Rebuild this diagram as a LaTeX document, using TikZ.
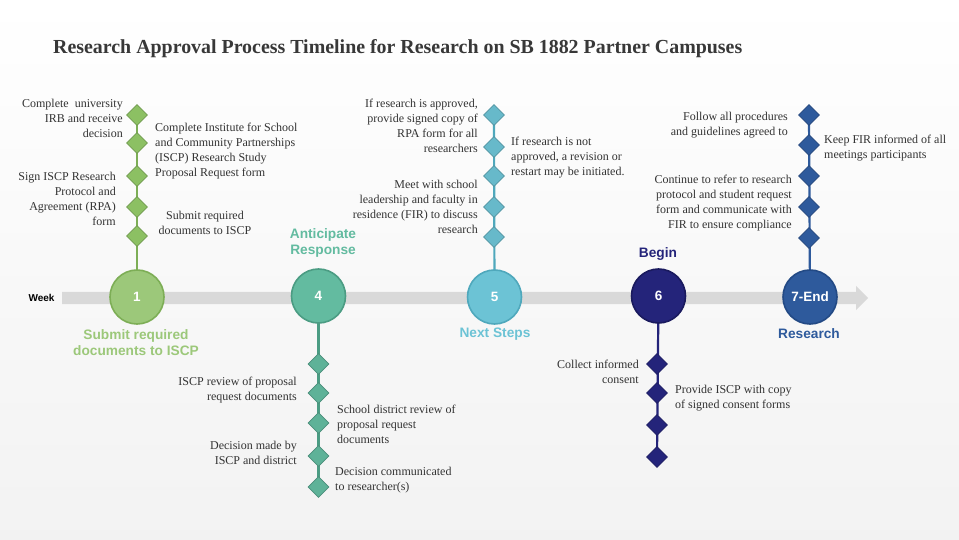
\documentclass[tikz,border=0pt]{standalone}
\usepackage{fontspec}
\setmainfont{Liberation Serif}
\setsansfont{Liberation Sans}
\usetikzlibrary{shapes.geometric,backgrounds}
\definecolor{gC}{HTML}{9CC87A}\definecolor{gD}{HTML}{7DAE56}
\definecolor{gM}{HTML}{8CC063}
\definecolor{tC}{HTML}{63BBA0}\definecolor{tD}{HTML}{4B9C83}
\definecolor{bC}{HTML}{6CC3D5}\definecolor{bD}{HTML}{4FA8BC}
\definecolor{nC}{HTML}{24247A}\definecolor{nD}{HTML}{1A1A5E}
\definecolor{rC}{HTML}{2E5A9C}\definecolor{rD}{HTML}{234A85}
\definecolor{txtc}{HTML}{333333}
\definecolor{barc}{HTML}{D9D9D9}
\tikzset{
  txt/.style={font=\fontsize{12}{15}\selectfont, inner sep=0pt, text=txtc},
  lt/.style={txt, align=right, anchor=east},
  rt/.style={txt, align=left, anchor=west},
  ct/.style={txt, align=center, anchor=center},
  dia/.style={diamond, aspect=1, minimum width=21pt, minimum height=21pt, inner sep=0pt, fill=#1, draw=#1!80!black, line width=0.6pt},
  wk/.style={circle, minimum size=54pt, inner sep=0pt, fill=#1C, draw=#1D, line width=1.6pt, text=white, font=\sffamily\bfseries\fontsize{13.5}{15}\selectfont},
  lab/.style={font=\sffamily\bfseries\fontsize{13.7}{16}\selectfont, text=#1, align=center, inner sep=0pt},
  stem/.style={line width=2.2pt, draw=#1}
}
\begin{document}
\begin{tikzpicture}[x=1pt,y=-1pt]
\begin{scope}[on background layer]
\shade[top color=white, bottom color=black!5] (0,0) rectangle (959,540);
\end{scope}
\useasboundingbox (0,0) rectangle (959,540);
% title
\node[font=\bfseries\fontsize{19.9}{22}\selectfont, text=black!78, anchor=west, inner sep=0pt] (title) at (53,49) {Research Approval Process Timeline for Research on SB 1882 Partner Campuses};
% timeline bar
\fill[barc] (62,292) -- (856,292) -- (856,286) -- (868,298) -- (856,310) -- (856,304) -- (62,304) -- cycle;
\node[font=\sffamily\bfseries\fontsize{10}{11}\selectfont, inner sep=0pt] (week) at (41.5,298) {Week};
% circles
\node[wk=g] (c1) at (137,297) {1};
\node[wk=t] (c4) at (318.5,296) {4};
\node[wk=b] (c5) at (494.5,297) {5};
\node[wk=n] (c6) at (658.5,296) {6};
\node[wk=r] (c7) at (810,297) {7-End};
% labels
\node[lab=gC] (l1) at (136,343) {Submit required\\documents to ISCP};
\node[lab=tC] (l4) at (323,243) {Anticipate\\Response};
\node[lab=bC] (l5) at (495,334) {Next Steps};
\node[lab=nC] (l6) at (658,254) {Begin};
\node[lab=rC] (l7) at (809,334) {Research};
% chain 1
\node[dia=gM] (g1) at (137,115) {};
\node[dia=gM] (g2) at (137,143) {};
\node[dia=gM] (g3) at (137,176) {};
\node[dia=gM] (g4) at (137,207) {};
\node[dia=gM] (g5) at (137,236) {};
% chain 4
\node[dia=tC!95!black] (t1) at (318.5,364) {};
\node[dia=tC!95!black] (t2) at (318.5,393) {};
\node[dia=tC!95!black] (t3) at (318.5,423) {};
\node[dia=tC!95!black] (t4) at (318.5,456) {};
\node[dia=tC!95!black] (t5) at (318.5,487) {};
% chain 5
\node[dia=bC!95!black] (b1) at (494,115) {};
\node[dia=bC!95!black] (b2) at (494,147) {};
\node[dia=bC!95!black] (b3) at (494,176) {};
\node[dia=bC!95!black] (b4) at (494,207) {};
\node[dia=bC!95!black] (b5) at (494,237) {};
% chain 6
\node[dia=nC] (n1) at (657,364) {};
\node[dia=nC] (n2) at (657,393) {};
\node[dia=nC] (n3) at (657,425) {};
\node[dia=nC] (n4) at (657,457) {};
% chain 7
\node[dia=rC] (r1) at (809,115) {};
\node[dia=rC] (r2) at (809,145) {};
\node[dia=rC] (r3) at (809,176) {};
\node[dia=rC] (r4) at (809,207) {};
\node[dia=rC] (r5) at (809,238) {};
\begin{scope}[on background layer]
\draw[stem=gD] (c1.center) -- (g1.center);
\draw[stem=tD] (c4.center) -- (t5.center);
\draw[stem=bD] (c5.center) -- (b1.center);
\draw[stem=nC] (c6.center) -- (n4.center);
\draw[stem=rC] (c7.center) -- (r1.center);
\end{scope}
% texts chain 1
\node[lt] (x1) at (123,118) {Complete\ \ university\\IRB and receive\\decision};
\node[rt] (x2) at (155,151.5) {Complete Institute for School\\and Community Partnerships\\(ISCP) Research Study\\Proposal Request form};
\node[lt] (x3) at (116,198.5) {Sign ISCP Research\\Protocol and\\Agreement (RPA)\\form};
\node[ct] (x4) at (205,222.5) {Submit required\\documents to ISCP};
% texts chain 4
\node[lt] (x5) at (297,390.5) {ISCP review of proposal\\request documents};
\node[rt] (x6) at (337,424) {School district review of\\proposal request\\documents};
\node[lt] (x7) at (297,452.5) {Decision made by\\ISCP and district};
\node[rt] (x8) at (335,480.5) {Decision communicated\\to researcher(s)};
% texts chain 5
\node[lt] (x9) at (478,125.5) {If research is approved,\\provide signed copy of\\RPA form for all\\researchers};
\node[rt] (x10) at (511,158) {If research is not\\approved, a revision or\\restart may be initiated.};
\node[lt] (x11) at (478,206.5) {Meet with school\\leadership and faculty in\\residence (FIR) to discuss\\research};
% texts chain 6
\node[lt] (x12) at (639,371.5) {Collect informed\\consent};
\node[rt] (x13) at (675,398.5) {Provide ISCP with copy\\of signed consent forms};
% texts chain 7
\node[lt] (x14) at (788,125) {Follow all procedures\\and guidelines agreed to};
\node[rt] (x15) at (824,148) {Keep FIR informed of all\\meetings participants};
\node[lt] (x16) at (792,203.5) {Continue to refer to research\\protocol and student request\\form and communicate with\\FIR to ensure compliance};
\end{tikzpicture}
\end{document}
